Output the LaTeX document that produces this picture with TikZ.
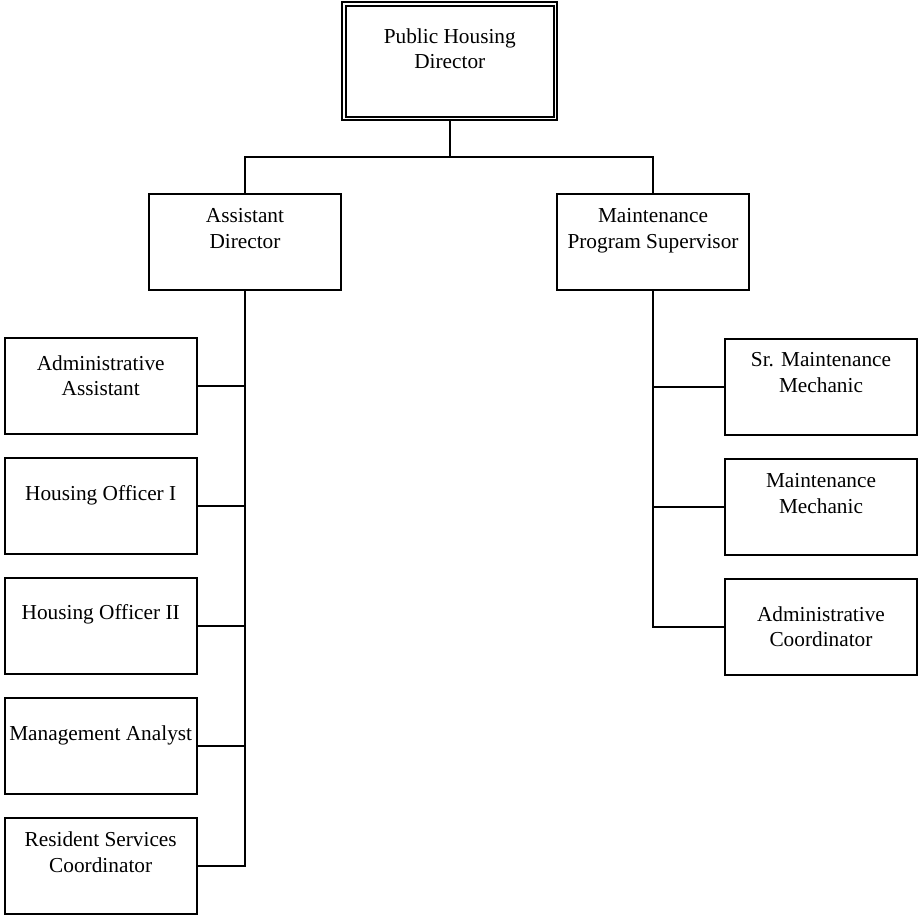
\documentclass[tikz,border=0pt]{standalone}
\usepackage{fontspec}
\setmainfont{Liberation Serif}
\usetikzlibrary{positioning}

\begin{document}
\begin{tikzpicture}[
    x=1pt, y=-1pt,
    node distance=24.5pt,
    font=\fontsize{21.3}{25.5}\selectfont,
    box/.style={rectangle, draw, line width=2pt, minimum width=192pt,
                minimum height=95.5pt, inner sep=0pt, outer sep=0pt},
    head/.style={box, double, line width=2pt, double distance=1.7pt,
                 minimum width=211.3pt, minimum height=114.3pt, outer sep=2.85pt},
    title/.style 2 args={label={[anchor=north, yshift=-#1pt, align=center,
                 inner sep=0pt]north:\strut #2}},
    link/.style={line width=1.8pt},
]
\useasboundingbox (0,0) rectangle (919,915);

% Director
\node[head, title={23.9}{Public Housing\\Director}] (phd) at (449.8,61.3) {};

% Second level
\node[box, title={10.5}{Assistant\\Director}] (ad) at (245,241.8) {};
\node[box, title={10.5}{Maintenance\\Program Supervisor}] (mps) at (653,241.8) {};

% Assistant director's staff
\node[box, title={13.9}{Administrative\\Assistant}] (aa) at (100.7,386.1) {};
\node[box, below=of aa, title={23.8}{Housing Officer I}] (ho1) {};
\node[box, below=of ho1, title={23.3}{Housing Officer II}] (ho2) {};
\node[box, below=of ho2, title={23.8}{Management Analyst}] (ma) {};
\node[box, below=of ma, title={10.5}{Resident Services\\Coordinator}] (rsc) {};

% Maintenance staff
\node[box, title={9.6}{Sr. Maintenance\\Mechanic}] (smm) at (821,387) {};
\node[box, below=of smm, title={10.4}{Maintenance\\Mechanic}] (mm) {};
\node[box, below=of mm, title={23.8}{Administrative\\Coordinator}] (ac) {};

% Lines
\coordinate (bus) at (449.8,157);
\draw[link] (phd.south) -- (bus);
\draw[link] (ad.north) |- (bus) -| (mps.north);
\draw[link] (ad.south) |- (rsc.east);
\foreach \n in {aa, ho1, ho2, ma}
    \draw[link] (\n.east) -- (\n.east -| ad.south);
\draw[link] (mps.south) |- (ac.west);
\foreach \n in {smm, mm}
    \draw[link] (\n.west) -- (\n.west -| mps.south);

\end{tikzpicture}
\end{document}
